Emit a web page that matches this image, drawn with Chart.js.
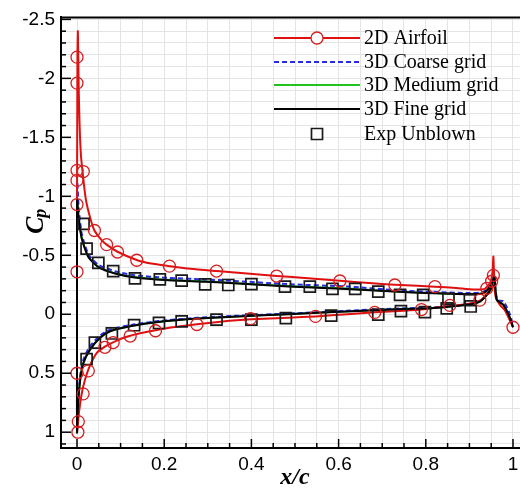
<!DOCTYPE html>
<html>
<head>
<meta charset="utf-8">
<script src="https://cdn.jsdelivr.net/npm/chart.js@4.4.1/dist/chart.umd.min.js"></script>
<style>
html,body{margin:0;padding:0;background:#fff;overflow:hidden;width:520px;height:488px;}
canvas{display:block;}
</style>
</head>
<body>
<canvas id="c" width="540" height="488" style="width:540px;height:488px"></canvas>
<script>
// ---- tick labels ----
const xMajorTicks = [0, 0.2, 0.4, 0.6, 0.8, 1];
const xTickLabels = ['0', '0.2', '0.4', '0.6', '0.8', '1'];
const yMajorTicks = [-2.5, -2, -1.5, -1, -0.5, 0, 0.5, 1];
const yTickLabels = ['-2.5', '-2', '-1.5', '-1', '-0.5', '0', '0.5', '1'];
const xTitle = 'x/c';
const yTitleMain = 'C';
const yTitleSub = 'p';

// ---- legend labels ----
const seriesNames = ['2D Airfoil', '3D Coarse grid', '3D Medium grid', '3D Fine grid', 'Exp Unblown'];

// ---- 2D Airfoil line ----
const airfoilX = [0.953,0.945,0.935,0.924,0.90,0.855,0.80,0.75,0.683,0.62,0.547,0.485,0.40,0.35,0.275,0.22,0.18,0.14,0.12,0.09,0.064,0.045,0.028,0.018,0.011,0.005,0.002,0.0,0.0,0.0,0.0,0.0005,0.001,0.002,0.004,0.006,0.009,0.013,0.02,0.03,0.04,0.055,0.068,0.093,0.137,0.17,0.212,0.26,0.32,0.39,0.458,0.53,0.603,0.67,0.729,0.78,0.821,0.87,0.91,0.935,0.948,0.953,0.955,0.957,0.96,0.97,0.98,0.99,1.0];
const airfoilCp = [-0.27,-0.20,-0.15,-0.115,-0.09,-0.07,-0.045,-0.03,-0.016,0.0,0.018,0.03,0.042,0.055,0.085,0.11,0.135,0.165,0.185,0.225,0.275,0.33,0.45,0.56,0.67,0.82,0.93,1.0,0.5,-0.36,-0.93,-1.6,-2.2,-2.4,-1.9,-1.6,-1.35,-1.2,-0.98,-0.82,-0.71,-0.635,-0.59,-0.53,-0.46,-0.43,-0.408,-0.385,-0.366,-0.345,-0.325,-0.305,-0.284,-0.265,-0.25,-0.241,-0.234,-0.222,-0.21,-0.215,-0.27,-0.36,-0.49,-0.3,-0.15,-0.08,-0.04,0.03,0.11];

// ---- 2D Airfoil markers ----
const airfoilMarkX = [0,0,0,0.0145,0,0,0,0.04,0.068,0.093,0.137,0.212,0.32,0.458,0.603,0.729,0.821,0.94,0.951,0.955,0,0.026,0.014,0.003,0.002,0.064,0.083,0.122,0.18,0.275,0.398,0.547,0.683,0.79,0.855,0.924,1.0];
const airfoilMarkCp = [-2.18,-1.96,-1.22,-1.21,-1.135,-0.93,-0.36,-0.71,-0.59,-0.528,-0.458,-0.408,-0.366,-0.324,-0.282,-0.248,-0.234,-0.22,-0.28,-0.33,0.5,0.48,0.675,0.91,1.0,0.28,0.24,0.185,0.14,0.087,0.037,0.018,-0.016,-0.04,-0.075,-0.12,0.11];

// ---- 3D Coarse grid ----
const coarseX = [0.955,0.943,0.924,0.894,0.817,0.748,0.619,0.485,0.37,0.278,0.187,0.125,0.076,0.053,0.03,0.015,0.008,0.003,0.001,0.0,0.0,0.0,0.0008,0.004,0.011,0.026,0.049,0.087,0.133,0.202,0.294,0.35,0.485,0.619,0.748,0.817,0.894,0.932,0.951,0.957,0.96,0.965,0.978,0.993,1.0];
const coarseCp = [-0.26,-0.18,-0.11,-0.085,-0.058,-0.05,-0.03,-0.005,0.012,0.03,0.058,0.09,0.13,0.18,0.27,0.38,0.5,0.7,0.88,1.0,0.0,-0.9,-1.12,-0.9,-0.68,-0.51,-0.42,-0.365,-0.33,-0.31,-0.295,-0.285,-0.255,-0.235,-0.2,-0.19,-0.18,-0.19,-0.26,-0.33,-0.2,-0.12,-0.11,0.0,0.1];

// ---- 3D Medium grid ----
const mediumX = [0.955,0.943,0.924,0.894,0.817,0.748,0.619,0.485,0.37,0.278,0.187,0.125,0.076,0.053,0.03,0.015,0.008,0.003,0.001,0.0,0.0,0.0,0.0005,0.003,0.011,0.026,0.049,0.087,0.133,0.202,0.294,0.35,0.485,0.619,0.748,0.817,0.894,0.932,0.951,0.957,0.96,0.963,0.978,0.993,1.0];
const mediumCp = [-0.25,-0.18,-0.11,-0.082,-0.054,-0.046,-0.026,-0.002,0.016,0.035,0.064,0.098,0.142,0.198,0.298,0.408,0.532,0.728,0.88,1.0,0.0,-0.8,-0.98,-0.85,-0.645,-0.49,-0.403,-0.349,-0.315,-0.293,-0.279,-0.268,-0.239,-0.218,-0.19,-0.18,-0.172,-0.18,-0.25,-0.32,-0.2,-0.12,-0.08,0.03,0.11];

// ---- 3D Fine grid ----
const fineX = [0.955,0.943,0.924,0.894,0.817,0.748,0.619,0.485,0.37,0.278,0.187,0.125,0.076,0.053,0.03,0.015,0.008,0.003,0.001,0.0,0.0,0.0,0.0005,0.003,0.011,0.026,0.049,0.087,0.133,0.202,0.294,0.35,0.485,0.619,0.748,0.817,0.894,0.932,0.951,0.957,0.96,0.963,0.978,0.993,1.0];
const fineCp = [-0.25,-0.178,-0.108,-0.08,-0.052,-0.045,-0.024,0.0,0.018,0.037,0.066,0.10,0.144,0.20,0.30,0.41,0.535,0.73,0.88,1.0,0.0,-0.8,-0.97,-0.84,-0.64,-0.486,-0.40,-0.346,-0.312,-0.29,-0.276,-0.265,-0.236,-0.215,-0.188,-0.178,-0.17,-0.178,-0.25,-0.32,-0.2,-0.12,-0.08,0.03,0.11];

// ---- Experiment (unblown) ----
const expX = [0.015,0.022,0.049,0.083,0.133,0.19,0.24,0.294,0.347,0.40,0.477,0.534,0.586,0.638,0.691,0.741,0.794,0.852,0.901,0.022,0.041,0.08,0.131,0.188,0.24,0.32,0.40,0.479,0.583,0.691,0.743,0.798,0.848,0.903];
const expCp = [-0.766,-0.556,-0.436,-0.366,-0.304,-0.296,-0.285,-0.254,-0.248,-0.255,-0.234,-0.234,-0.215,-0.215,-0.192,-0.165,-0.165,-0.13,-0.12,0.38,0.24,0.163,0.093,0.074,0.06,0.045,0.045,0.032,0.012,0.003,-0.027,-0.018,-0.05,-0.066];

const zip = (xs, ys) => xs.map((x, i) => ({x: x, y: ys[i]}));

const RED = '#e01010', BLUE = '#2a2ae0', GREEN = '#1fc21f', BLACK = '#000000';

const datasets = [
  {label: seriesNames[0] + ' line', data: zip(airfoilX, airfoilCp), showLine: true, borderColor: RED, borderWidth: 2, pointRadius: 0, tension: 0.2, order: 4},
  {label: seriesNames[1], data: zip(coarseX, coarseCp), showLine: true, borderColor: BLUE, borderWidth: 2, borderDash: [5, 3], pointRadius: 0, tension: 0.2, order: 5},
  {label: seriesNames[2], data: zip(mediumX, mediumCp), showLine: true, borderColor: GREEN, borderWidth: 2, pointRadius: 0, tension: 0.2, order: 6},
  {label: seriesNames[3], data: zip(fineX, fineCp), showLine: true, borderColor: BLACK, borderWidth: 2, pointRadius: 0, tension: 0.2, order: 3},
  {label: seriesNames[4], data: zip(expX, expCp), showLine: false, pointStyle: 'rect', pointRadius: 7.8, pointBorderColor: '#1a1a1a', pointBackgroundColor: 'rgba(0,0,0,0)', pointBorderWidth: 1.7, order: 1},
  {label: seriesNames[0], data: zip(airfoilMarkX, airfoilMarkCp), showLine: false, pointStyle: 'circle', pointRadius: 6, pointBorderColor: '#d42020', pointBackgroundColor: 'rgba(0,0,0,0)', pointBorderWidth: 1.3, order: 0}
];

const near = (a, b) => Math.abs(a - b) < 1e-6;
const xGridTicks = []; for (let i = 0; i <= 20; i++) xGridTicks.push(+(i * 0.05).toFixed(2));
const yGridTicks = []; for (let i = -25; i <= 11; i++) yGridTicks.push(+(i * 0.1).toFixed(1));

const axesPlugin = {
  id: 'axesDecor',
  afterDraw(chart) {
    const ctx = chart.ctx, xs = chart.scales.x, ys = chart.scales.y, a = chart.chartArea;
    ctx.save();
    ctx.strokeStyle = '#000';
    ctx.lineWidth = 2;
    ctx.beginPath();
    ctx.moveTo(a.left, a.top); ctx.lineTo(a.right, a.top); ctx.lineTo(a.right, a.bottom);
    ctx.stroke();
    ctx.lineWidth = 1.5;
    xGridTicks.forEach(v => {
      const p = xs.getPixelForValue(v);
      const major = xMajorTicks.some(m => near(m, v));
      const len = major ? 9 : 5;
      ctx.beginPath(); ctx.moveTo(p, a.bottom); ctx.lineTo(p, a.bottom - len); ctx.stroke();
    });
    yGridTicks.forEach(v => {
      const p = ys.getPixelForValue(v);
      if (p < a.top - 1 || p > a.bottom + 1) return;
      const major = yMajorTicks.some(m => near(m, v));
      const len = major ? 10 : 5;
      ctx.beginPath(); ctx.moveTo(a.left, p); ctx.lineTo(a.left + len, p); ctx.stroke();
    });
    ctx.fillStyle = '#000';
    ctx.font = 'italic bold 24px "Liberation Serif"';
    ctx.textAlign = 'center'; ctx.textBaseline = 'alphabetic';
    ctx.fillText(xTitle, (a.left + a.right) / 2, 484);
    ctx.translate(43, 234);
    ctx.rotate(-Math.PI / 2);
    ctx.textAlign = 'left';
    ctx.font = 'italic bold 26px "Liberation Serif"';
    ctx.fillText(yTitleMain, 0, 0);
    const w = ctx.measureText(yTitleMain).width;
    ctx.font = 'italic bold 18px "Liberation Serif"';
    ctx.fillText(yTitleSub, w - 1, 3);
    ctx.restore();
  }
};

const legendPlugin = {
  id: 'plotLegend',
  afterDraw(chart) {
    const ctx = chart.ctx;
    const ds = chart.data.datasets;
    const rows = [
      {line: ds[0], marker: ds[5], y: 38, text: seriesNames[0]},
      {line: ds[1], y: 62, text: seriesNames[1]},
      {line: ds[2], y: 85, text: seriesNames[2]},
      {line: ds[3], y: 109, text: seriesNames[3]},
      {marker: ds[4], y: 134, text: seriesNames[4]}
    ];
    const x0 = 274, x1 = 360, xm = 317, xt = 364;
    ctx.save();
    rows.forEach(r => {
      if (r.line) {
        ctx.strokeStyle = r.line.borderColor;
        ctx.lineWidth = r.line.borderWidth;
        ctx.setLineDash(r.line.borderDash || []);
        ctx.beginPath(); ctx.moveTo(x0, r.y); ctx.lineTo(x1, r.y); ctx.stroke();
        ctx.setLineDash([]);
      }
      if (r.marker) {
        ctx.strokeStyle = r.marker.pointBorderColor;
        ctx.lineWidth = r.marker.pointBorderWidth;
        ctx.beginPath();
        if (r.marker.pointStyle === 'circle') ctx.arc(xm, r.y, r.marker.pointRadius, 0, Math.PI * 2);
        else { const s = r.marker.pointRadius * Math.SQRT1_2; ctx.rect(xm - s, r.y - s, 2 * s, 2 * s); }
        ctx.fillStyle = '#fff';
        ctx.fill();
        ctx.stroke();
      }
      ctx.fillStyle = '#000';
      ctx.font = '20px "Liberation Serif"';
      ctx.textBaseline = 'middle';
      ctx.textAlign = 'left';
      ctx.fillText(r.text, xt, r.y + 1);
    });
    ctx.restore();
  }
};

new Chart(document.getElementById('c'), {
  type: 'scatter',
  data: {datasets: datasets},
  plugins: [axesPlugin, legendPlugin],
  options: {
    responsive: false,
    animation: false,
    devicePixelRatio: 1,
    layout: {padding: {top: 13, right: 11, bottom: 0, left: 0}},
    plugins: {legend: {display: false}, tooltip: {enabled: false}, title: {display: false}},
    scales: {
      x: {
        type: 'linear', min: -0.0367, max: 1.0367,
        afterBuildTicks: s => { s.ticks = xGridTicks.map(v => ({value: v})); },
        afterFit: s => { s.height = 40; },
        grid: {color: '#e4e4e4', lineWidth: 1, drawTicks: false},
        border: {display: true, color: '#000', width: 2},
        ticks: {
          autoSkip: false, maxRotation: 0, padding: 5, color: '#000',
          font: {family: '"Liberation Sans", Arial', size: 19},
          callback: v => { const i = xMajorTicks.findIndex(m => near(m, v)); return i >= 0 ? xTickLabels[i] : ''; }
        }
      },
      y: {
        type: 'linear', reverse: true, min: -2.517, max: 1.134,
        afterBuildTicks: s => { s.ticks = yGridTicks.map(v => ({value: v})); },
        afterFit: s => { s.width = 61; },
        grid: {color: '#e4e4e4', lineWidth: 1, drawTicks: false},
        border: {display: true, color: '#000', width: 2},
        ticks: {
          autoSkip: false, padding: 6, color: '#000',
          font: {family: '"Liberation Sans", Arial', size: 19},
          callback: v => { const i = yMajorTicks.findIndex(m => near(m, v)); return i >= 0 ? yTickLabels[i] : ''; }
        }
      }
    }
  }
});
</script>
</body>
</html>
